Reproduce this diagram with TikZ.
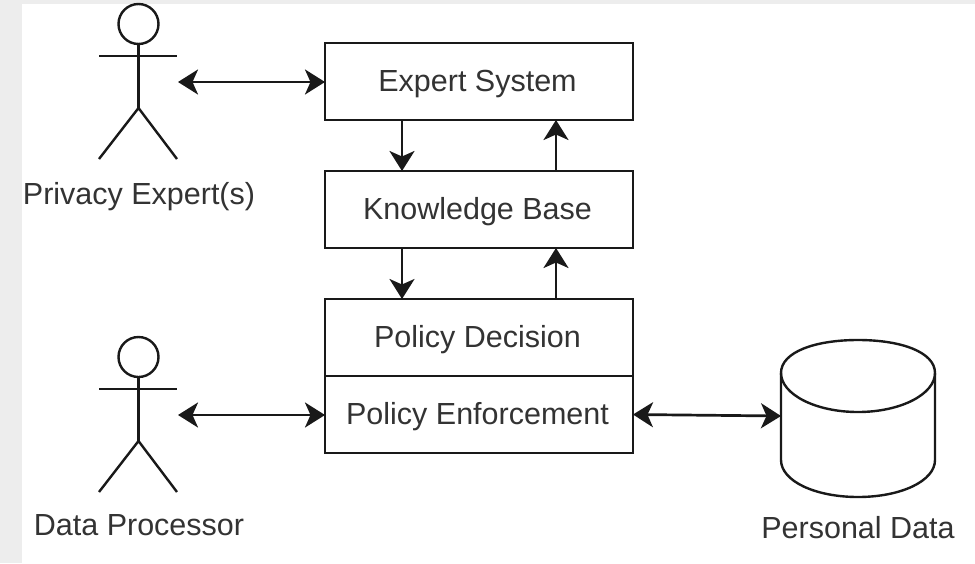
\documentclass[tikz,border=0pt]{standalone}
\usepackage{fontspec}
\setmainfont{Liberation Sans}
\usetikzlibrary{arrows.meta}
\definecolor{bgstrip}{HTML}{EDEDED}
\definecolor{labelgray}{HTML}{333333}
\newcommand{\boxtxt}[1]{\hspace*{-3pt}#1}
\tikzset{
  ln/.style={line width=2.4pt,draw=black!90},
  boxnode/.style={ln,fill=white,minimum width=308pt,minimum height=77pt,inner sep=0pt,outer sep=0pt,text=labelgray,text height=26pt,text depth=6pt,font=\fontsize{30.5}{32}\selectfont},
  lbl/.style={inner sep=0pt,anchor=base,text=labelgray,font=\fontsize{30.5}{32}\selectfont},
  head/.style={ln,circle,minimum size=40pt,inner sep=0pt,outer sep=0pt},
  conn/.style={ln,line width=2.7pt,{Stealth[length=20pt,width=25pt,inset=5.5pt]}-{Stealth[length=20pt,width=25pt,inset=5.5pt]}},
  down/.style={ln,line width=2.7pt,-{Stealth[length=20pt,width=25pt,inset=5.5pt]}}
}
\begin{document}
\begin{tikzpicture}[x=1pt,y=-1pt]
\useasboundingbox (0,0) rectangle (975,563);
\fill[white] (0,0) rectangle (975,563);
\fill[bgstrip] (0,0) rectangle (22,563);
\fill[bgstrip] (0,0) rectangle (975,4);
% boxes
\node[boxnode] (es) at (479,81.5) {\boxtxt{Expert System}};
\node[boxnode] (kb) at (479,209.5) {\boxtxt{Knowledge Base}};
\node[boxnode] (pd) at (479,337.5) {\boxtxt{Policy Decision}};
\node[boxnode] (pe) at (479,414.5) {\boxtxt{Policy Enforcement}};
% actor 1
\node[head] (h1) at (138.5,24) {};
\coordinate (b1) at (138.5,108);
\coordinate (la1) at (99,56);
\coordinate (ra1) at (177,56);
\coordinate (ll1) at (99,159);
\coordinate (rl1) at (177,159);
\draw[ln] (h1.south) -- (b1);
\draw[ln] (la1) -- (ra1);
\draw[ln] (ll1) -- (b1) -- (rl1);
\node[lbl] (pelabel) at (139,204) {Privacy Expert(s)};
% actor 2
\node[head] (h2) at (138.5,357) {};
\coordinate (b2) at (138.5,441);
\coordinate (la2) at (99,389);
\coordinate (ra2) at (177,389);
\coordinate (ll2) at (99,492);
\coordinate (rl2) at (177,492);
\draw[ln] (h2.south) -- (b2);
\draw[ln] (la2) -- (ra2);
\draw[ln] (ll2) -- (b2) -- (rl2);
\node[lbl] (dplabel) at (139,535) {Data Processor};
% cylinder
\coordinate (dbw) at (781,373);
\coordinate (dbe) at (935,373);
\coordinate (dbbw) at (781,460);
\coordinate (dbbe) at (935,460);
\draw[ln,fill=white] (dbw) .. controls (781,352) and (815,340) .. (858,340) .. controls (901,340) and (935,352) .. (dbe) -- (dbbe) .. controls (935,481) and (901,497) .. (858,497) .. controls (815,497) and (781,481) .. (dbbw) -- cycle;
\draw[ln] (dbw) .. controls (781,394) and (815,412) .. (858,412) .. controls (901,412) and (935,394) .. (dbe);
\node[lbl] (pdlabel) at (858,538) {Personal Data};
\coordinate (dbin) at (781,416);
% connectors
\coordinate (a1) at (178,82);
\coordinate (a2) at (178,415);
\draw[conn] (a1) -- (es.west |- a1);
\draw[conn] (a2) -- (pe.west |- a2);
\draw[conn] (pe.east) -- (dbin);
\draw[down] (es.south -| 402,0) -- (kb.north -| 402,0);
\draw[down] (kb.north -| 556,0) -- (es.south -| 556,0);
\draw[down] (kb.south -| 402,0) -- (pd.north -| 402,0);
\draw[down] (pd.north -| 556,0) -- (kb.south -| 556,0);
\end{tikzpicture}
\end{document}
